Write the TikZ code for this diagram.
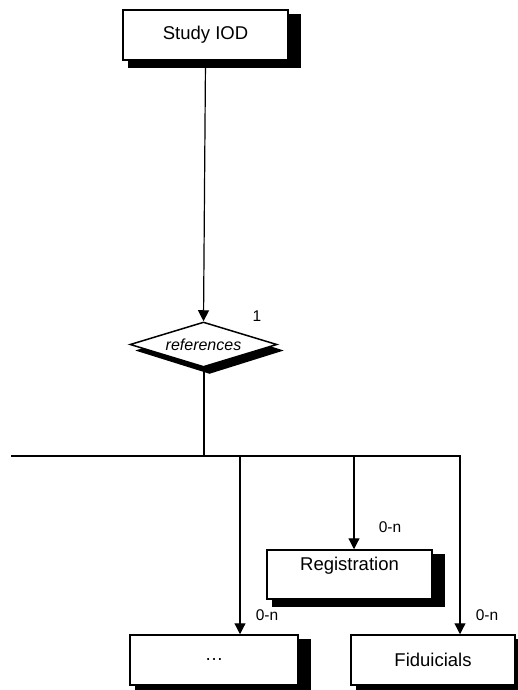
\documentclass[tikz,border=0pt]{standalone}
\usepackage{fontspec}
\setmainfont{Liberation Sans}
\usetikzlibrary{arrows.meta,shapes.geometric,backgrounds}

\tikzset{
  entity/.style={draw=black, fill=white, line width=1.5pt, inner sep=0pt,
    minimum width=165pt, minimum height=50pt, font=\fontsize{18.5}{20}\selectfont},
  relation/.style={draw=black, fill=white, line width=1.5pt, shape=diamond,
    aspect=3.27, inner sep=0pt, minimum width=147pt, minimum height=45pt,
    font=\fontsize{16}{18}\selectfont\itshape},
  card/.style={font=\fontsize{15.5}{17}\selectfont, inner sep=0pt},
  link/.style={line width=1.2pt},
  arrowlink/.style={link, -{Triangle[width=11pt,length=11pt]}},
  shadow/.style={fill=black}
}

\begin{document}
\begin{tikzpicture}[x=1pt, y=-1pt]
  \useasboundingbox (0,0) rectangle (518,690);
  \clip (0,0) rectangle (518,690);

  % entities and relationship
  \node[entity] (study) at (205.5,35) {Study IOD};
  \node[relation] (refs) at (203.5,344.5) {references};
  \node[entity, minimum width=165pt, minimum height=49pt,
        inner ysep=3pt, text height=17pt, text depth=26pt] (reg) at (349.5,574.5) {Registration};
  \node[entity, minimum width=168pt] (dots) at (214,660) {…};
  \node[entity, minimum width=164pt] (fid) at (433,660) {Fiduicials};

  % drop shadows
  \begin{scope}[on background layer]
    \foreach \n in {study,reg,dots,fid}
      \fill[shadow] ([shift={(6,5)}]\n.north west) rectangle ([shift={(12,7)}]\n.south east);
    \fill[shadow] ([shift={(6,6)}]refs.west) -- ([shift={(6,6)}]refs.north)
      -- ([shift={(6,6)}]refs.east) -- ([shift={(6,6)}]refs.south) -- cycle;
  \end{scope}

  % bus and branch points
  \coordinate (junc) at (203.5,456);
  \coordinate (busL) at (11,456);
  \coordinate (busR) at (461,456);
  \coordinate (b1) at (240,456);
  \coordinate (b2) at (354,456);
  \coordinate (b3) at (460,456);

  % connectors
  \draw[arrowlink] (study.south) -- (refs.north);
  \draw[link, line width=2pt] (refs.south) -- (junc);
  \draw[link, line width=1.5pt] (busL) -- (busR);
  \draw[arrowlink] (b1) -- (b1 |- dots.north);
  \draw[arrowlink] (b2) -- (b2 |- reg.north);
  \draw[arrowlink] (b3) -- (b3 |- fid.north);

  % cardinalities
  \node[card] (c1) at (257,316) {1};
  \node[card] (c2) at (390,527) {0-n};
  \node[card] (c3) at (267,615) {0-n};
  \node[card] (c4) at (487,615) {0-n};
\end{tikzpicture}
\end{document}
